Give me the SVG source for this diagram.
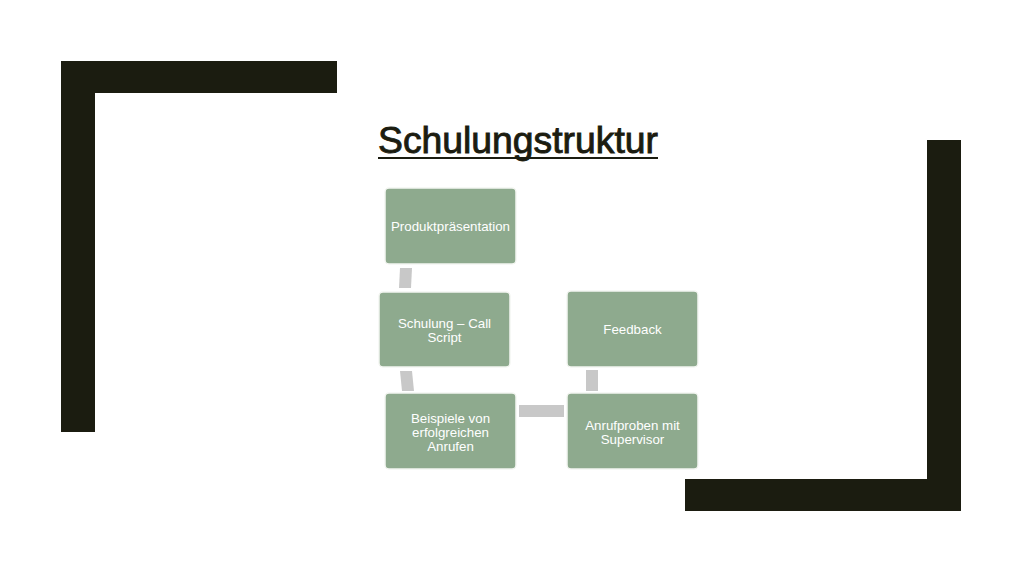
<svg xmlns="http://www.w3.org/2000/svg" width="1024" height="574" viewBox="0 0 1024 574">
<style>
.frame{fill:#1b1c10}
.node rect{fill:#8eaa8e;stroke:#f4f6f2;stroke-width:1.5}
.node text{fill:#ffffff;font-family:"Liberation Sans",Arial,sans-serif;font-size:13.3px;text-anchor:middle}
.conn{fill:#c8c8c8}
.title{fill:#1b1c10;stroke:#1b1c10;stroke-width:0.9;font-family:"Liberation Sans",Arial,sans-serif;font-size:36px}
</style>
<rect width="1024" height="574" fill="#ffffff"/>
<g id="frame-top-left">
<rect class="frame" x="61" y="61" width="276" height="32"/>
<rect class="frame" x="61" y="61" width="34" height="371"/>
</g>
<g id="frame-bottom-right">
<rect class="frame" x="927" y="140" width="34" height="371"/>
<rect class="frame" x="685" y="479" width="276" height="32"/>
</g>
<g id="title">
<text class="title" x="378" y="153" textLength="280" lengthAdjust="spacingAndGlyphs">Schulungstruktur</text>
<rect x="378" y="157" width="280" height="2" fill="#1b1c10"/>
</g>
<g id="connectors">
<polygon class="conn" points="400,268 412,268 411,288 399,288"/>
<polygon class="conn" points="400,371 412,371 414,391 402,391"/>
<rect class="conn" x="519" y="405" width="45" height="12"/>
<rect class="conn" x="586" y="370" width="12" height="21"/>
</g>
<g id="node-produkt" class="node">
<rect x="385" y="188" width="131" height="76" rx="4"/>
<text x="450.5" y="230.5">Produktpräsentation</text>
</g>
<g id="node-schulung" class="node">
<rect x="379" y="292" width="131" height="75" rx="4"/>
<text x="444.5" y="327.5">Schulung – Call</text>
<text x="444.5" y="341.5">Script</text>
</g>
<g id="node-beispiele" class="node">
<rect x="385" y="393" width="131" height="76" rx="4"/>
<text x="450.5" y="422.5">Beispiele von</text>
<text x="450.5" y="436.5">erfolgreichen</text>
<text x="450.5" y="450.5">Anrufen</text>
</g>
<g id="node-feedback" class="node">
<rect x="567" y="291" width="131" height="76" rx="4"/>
<text x="632.5" y="333.5">Feedback</text>
</g>
<g id="node-anrufproben" class="node">
<rect x="567" y="393" width="131" height="76" rx="4"/>
<text x="632.5" y="429.5">Anrufproben mit</text>
<text x="632.5" y="443.5">Supervisor</text>
</g>
</svg>
